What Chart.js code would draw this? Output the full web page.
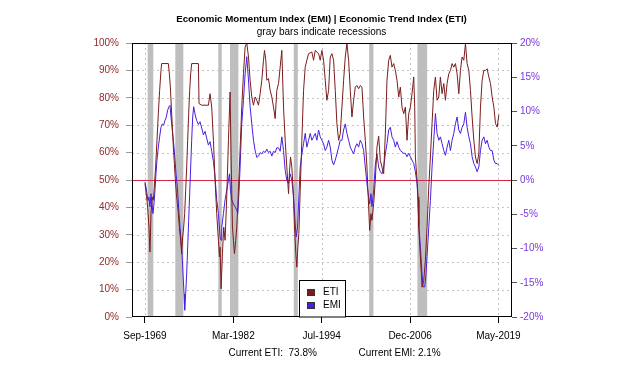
<!DOCTYPE html>
<html>
<head>
<meta charset="utf-8">
<script src="https://cdn.jsdelivr.net/npm/chart.js@4.4.0/dist/chart.umd.min.js"></script>
<style>
html,body{margin:0;padding:0;background:#fff;}
canvas{display:block;}
</style>
</head>
<body>
<canvas id="c" width="626" height="371"></canvas>
<script>
// ---- DATA (x = month index, 0 = Sep-1969) ----
const tickPositions = [0, 150, 300, 450, 600];
const tickLabels = ['Sep-1969', 'Mar-1982', 'Jul-1994', 'Dec-2006', 'May-2019'];

const recessionStarts = [4.6, 51.5, 124.5, 144.4, 252.6, 380.5, 462.5];
const recessionEnds   = [14.1, 65.1, 130.3, 158.5, 259.4, 387.8, 479.0];

const etiMonths = [0,2.8,4.5,6.8,8.5,10.2,12.5,14.2,15.9,18.1,20.4,22.7,24.9,27.2,28.3,39.7,41.4,43.1,44.8,46.5,48.2,49.9,51.6,53.3,55,56.7,58.4,60.6,62.3,64,65.7,67.4,69.1,70.8,72.5,74.2,75.9,77.6,79.3,90.7,91.8,96.3,107.7,110.5,113.3,116.2,119,121.8,124.7,126.4,127.5,129.2,131.5,133.7,136,138.8,141.7,144.5,146.2,148.5,150.2,151.9,154.1,155.8,157.5,159.8,162.1,164.3,167.2,170,172.8,175.7,178.5,181.3,184.2,187,189.8,192.7,195.5,198.3,201.2,202.9,205.1,206.8,209.7,212.5,215.3,218.2,221,223.8,226.7,229.5,232.3,235.2,238,240.8,243.7,245.4,247.1,249.3,251.6,253.9,256.1,257.8,259.5,261.2,263.5,266.3,269.2,272,274.8,277.7,283.3,286.2,289,294.7,297.5,300.3,303.2,306,308.8,311.7,314.5,317.3,320.2,323,325.8,328.7,331.5,334.3,337.2,340,342.8,345.7,348.5,351.3,354.2,357,359.8,362.7,365.5,368.3,371.2,374,376.8,379.7,381.4,383.6,385.3,388.2,391,393.8,396.7,399.5,402.3,405.2,408,410.8,413.7,416.5,419.3,422.2,425,427.8,430.7,433.5,436.3,439.2,442,444.8,447.7,450.5,453.3,456.2,457.9,459,461.8,463.5,464.7,467.5,469.2,470.3,473.2,476,478.8,481.7,484.5,487.3,490.2,493,495.8,498.7,501.5,504.3,507.2,510,512.8,515.7,518.5,521.3,524.2,527,529.8,532.7,535.5,538.3,541.2,544,546.8,549.7,552.5,555.3,558.2,561,563.8,566.7,569.5,572.3,575.2,578,580.8,583.7,586.5,589.3,592.2,595,597.8,600.7];
const etiValues = [48.7,43.8,40.1,32.8,23.7,37.7,43.8,42.6,47.4,54.7,64.5,74.2,82.7,90,92.5,92.5,88.8,83.9,76.6,69.3,62,56,49.9,45,41.4,37.7,32.8,28,23.1,29.2,32.8,37.7,46.2,54.7,64.5,74.2,82.7,88.8,92.5,92.5,77.9,77.3,77.3,81.5,76.6,64.5,49.9,37.7,28,21.9,25.5,10.3,23.1,32.8,28,43.8,64.5,82.1,58.4,32.8,28,23.1,28,32.8,40.1,52.3,64.5,76.6,88.8,98.5,100,94.9,86.4,80.3,77.3,80.3,79.1,77.3,81.5,86.4,93.7,97.3,93.7,86.4,87,82.7,80.3,76.6,72.4,82.7,85.2,91.2,97.3,76.6,64.5,54.7,45,53.5,58.4,54.7,46.2,32.8,23.1,18.2,25.5,30.4,46.2,64.5,82.7,91.2,93.7,96.1,96.7,93.7,97.3,96.1,93.7,97.3,93.7,86.4,79.1,82.7,94.9,96.1,93.7,82.7,70.6,64.5,66.9,76.6,86.4,94.9,99.8,93.7,82.7,73,79.1,83.9,84.5,83.3,84.5,83.9,73,64.5,54.7,40.1,31.6,37.7,35.3,41.4,50,62,66,57.2,54.7,52.3,66.9,86.4,93.7,95.5,91.2,92.5,90,86.4,80.3,83.9,76.6,74.2,76.6,64.5,74.2,76.6,81.5,87.6,76.6,58.4,49.9,43.8,32.8,21.9,15.8,10.9,13.4,20.7,32.8,47.4,58.4,70.6,82.7,87.6,79.1,80.3,87.6,81.5,85.2,79.1,85.2,88.8,90,92.5,91.2,92.5,88.8,81.5,90,94.9,93.7,99.8,92.5,90,82.7,73,64.5,58.4,56,59.6,76.6,86.4,90,90,90.6,87.6,85.2,80.3,76.6,70.6,69.3,73.8];

const emiMonths = [0,1.7,3.4,5.1,6.8,8.5,10.2,11.9,13.6,15.3,17,18.7,20.4,22.7,24.9,27.2,29.5,31.7,34,36.3,38.5,40.8,42.5,44.2,45.9,47.6,49.3,51,52.7,54.4,56.1,57.8,59.5,61.2,62.9,64.6,66.3,67.4,69.1,70.8,72.5,74.2,75.9,77.6,79.3,81,82.7,84.4,86.1,87.8,90.7,93.5,96.3,99.2,102,104.8,107.7,110.5,113.3,116.2,119,121.8,124.7,127.5,129.2,130.3,133.2,136,138.8,141.7,143.4,145.1,147.3,150.2,153,155.8,157.5,159.8,161.5,164.3,167.2,170,172.8,175.7,178.5,181.3,184.2,187,189.8,192.7,195.5,198.3,201.2,204,206.8,209.7,212.5,215.3,218.2,221,223.8,226.7,229.5,232.3,235.2,238,240.8,243.7,246.5,249.3,252.2,255,256.7,259,260.7,263.5,266.3,269.2,272,274.8,277.7,280.5,283.3,286.2,289,291.8,294.7,297.5,300.3,303.2,306,308.8,311.7,314.5,317.3,320.2,323,325.8,328.7,331.5,334.3,337.2,340,342.8,345.7,348.5,351.3,354.2,357,359.8,362.7,365.5,368.3,371.2,374,376.8,379.7,381.4,383.6,385.3,388.2,391,393.8,396.7,399.5,402.3,405.2,408,410.8,413.7,416.5,419.3,422.2,425,427.8,430.7,433.5,436.3,439.2,442,444.8,447.7,450.5,453.3,456.2,459,461.8,463.5,464.7,467.5,470.3,472,474.9,477.1,478.8,481.7,484.5,487.3,490.2,493,495.8,498.7,501.5,504.3,507.2,510,512.8,515.7,518.5,521.3,524.2,527,529.8,532.7,535.5,538.3,541.2,544,546.8,549.7,552.5,555.3,558.2,561,563.8,566.7,569.5,572.3,575.2,578,580.8,583.7,586.5,589.3,592.2,595,597.8,600.7];
const emiValues = [-0.3,-1,-2,-3,-2.5,-3.9,-2,-3.5,-4.9,-3.5,-1.5,0.9,2.9,4.8,6.3,7.7,8.2,8,8.7,9.2,10.2,10.7,10.9,9.2,7.7,6.3,4.8,2.9,0.9,-0.5,-2.5,-4.9,-6.9,-8.8,-10.8,-13.7,-16.6,-19,-16.6,-13.7,-9.8,-5.9,-2,1.9,5.8,9.2,10.7,9.9,9.2,8.7,8.1,8.5,7.6,6.6,7.1,6.1,5.1,5.6,4.2,2.7,0.4,-2.9,-4.9,-8.3,-8.8,-6.9,-4.9,-2.9,-1.5,0,0.9,-1.5,-2.9,-3.5,-3.9,-4.4,-4.9,-1.5,1.9,8.2,11.6,15.5,18,14.6,10.7,8.2,5.8,4.3,3.3,3.5,4,3.8,4.2,4,4.5,4,4.2,3.5,4.2,4,4.7,4.7,4.2,6.3,4.3,1.4,0,-0.5,0.9,0,-2.4,-6.4,-8.3,-6.9,-3.5,1.9,3.8,5.3,6.8,4.8,5.8,6.8,5.8,6.3,6.8,5.8,7.3,6.3,5.8,5.3,4.3,4.8,5.8,4.8,2.9,2.2,2.9,3.8,4.8,5.8,5.8,7.3,8.2,6.8,5.8,4.8,4.3,3.8,4.8,5.3,4.8,5.8,5.3,4.3,1.9,-0.5,-2.5,-3.5,-2,-3.9,-1.5,2.2,3.8,1.9,1.2,0.9,1.9,3.8,5.3,7.3,7.7,6.3,5.8,4.8,5.6,4.8,4.3,4.1,3.9,3.9,3.4,3.9,3.4,2.9,2.4,1.2,-0.5,-3,-6.4,-9.8,-13.7,-15.6,-15.6,-13.7,-11.2,-6.9,-3,1.9,5.8,9.7,6.8,5.8,6.3,5.3,4.3,3.6,4.8,5.8,4.3,5.8,6.8,8.2,9.2,7.3,6.8,7.7,8.2,9.9,7.7,6.3,5.3,3.4,2.4,1.9,1.2,1.9,4.3,5.8,6.3,5.3,5.8,4.8,4.3,4.3,2.9,2.4,2.4,2.1];

const seriesNames = ['ETI', 'EMI'];
const currentETI = '73.8%';
const currentEMI = '2.1%';

// ---- STYLE ----
const FONT = '"Liberation Sans", Arial, Helvetica, sans-serif';
const ETI_COLOR = '#7a1c1c';
const EMI_COLOR = '#4a1ee0';
const LEFT_LABEL = '#8e2a2a';
const RIGHT_LABEL = '#7a38dc';

const decor = {
  id: 'decor',
  beforeDatasetsDraw(chart) {
    const {ctx, chartArea: a, scales} = chart;
    const x = scales.x, yl = scales.yL;
    ctx.save();
    ctx.fillStyle = '#bebebe';
    for (let i = 0; i < recessionStarts.length; i++) {
      const x0 = x.getPixelForValue(recessionStarts[i]);
      const x1 = x.getPixelForValue(recessionEnds[i]);
      ctx.fillRect(x0, a.top, x1 - x0, a.bottom - a.top);
    }
    ctx.strokeStyle = '#c4c4c4';
    ctx.lineWidth = 1;
    ctx.setLineDash([2, 3]);
    tickPositions.forEach(v => {
      const px = Math.round(x.getPixelForValue(v)) + 0.5;
      ctx.beginPath(); ctx.moveTo(px, a.top); ctx.lineTo(px, a.bottom); ctx.stroke();
    });
    for (let v = 10; v < 100; v += 10) {
      if (v === 50) continue;
      const py = Math.round(yl.getPixelForValue(v)) + 0.5;
      ctx.beginPath(); ctx.moveTo(a.left, py); ctx.lineTo(a.right, py); ctx.stroke();
    }
    ctx.setLineDash([]);
    ctx.strokeStyle = '#d8284a';
    const pz = Math.round(yl.getPixelForValue(50)) + 0.5;
    ctx.beginPath(); ctx.moveTo(a.left, pz); ctx.lineTo(a.right, pz); ctx.stroke();
    ctx.restore();
  },
  afterDatasetsDraw(chart) {
    const {ctx, chartArea: a} = chart;
    ctx.save();
    ctx.strokeStyle = '#000';
    ctx.lineWidth = 1;
    ctx.strokeRect(a.left + 0.5, a.top + 0.5, a.right - a.left - 1, a.bottom - a.top - 1);
    // legend
    const lx = 299.5, ly = 280.5, lw = 46, lh = 36.5;
    ctx.fillStyle = '#fff';
    ctx.fillRect(lx, ly, lw, lh);
    ctx.strokeRect(lx, ly, lw, lh);
    const cols = [ETI_COLOR, EMI_COLOR];
    ctx.font = '10px ' + FONT;
    ctx.textBaseline = 'middle';
    ctx.textAlign = 'left';
    seriesNames.forEach((n, i) => {
      const sy = 289 + i * 13;
      ctx.fillStyle = cols[i];
      ctx.fillRect(307, sy, 8, 7);
      ctx.strokeStyle = '#333';
      ctx.strokeRect(307.5, sy + 0.5, 7, 6);
      ctx.fillStyle = '#000';
      ctx.fillText(n, 323, sy + 3.5);
    });
    ctx.restore();
  },
  afterDraw(chart) {
    const {ctx} = chart;
    ctx.save();
    ctx.fillStyle = '#000';
    ctx.textBaseline = 'middle';
    ctx.textAlign = 'center';
    ctx.font = 'bold 9.7px ' + FONT;
    ctx.fillText('Economic Momentum Index (EMI) | Economic Trend Index (ETI)', 321.5, 19.5);
    ctx.font = '10px ' + FONT;
    ctx.fillText('gray bars indicate recessions', 321.5, 32.5);
    ctx.textAlign = 'left';
    ctx.fillText('Current ETI:  ' + currentETI, 228.5, 353.5);
    ctx.fillText('Current EMI: ' + currentEMI, 358.5, 353.5);
    ctx.restore();
  }
};

new Chart(document.getElementById('c'), {
  type: 'line',
  data: {
    datasets: [
      {
        label: seriesNames[0],
        data: etiMonths.map((m, i) => ({x: m, y: etiValues[i]})),
        yAxisID: 'yL',
        borderColor: ETI_COLOR,
        borderWidth: 1,
        pointRadius: 0,
        tension: 0
      },
      {
        label: seriesNames[1],
        data: emiMonths.map((m, i) => ({x: m, y: emiValues[i]})),
        yAxisID: 'yR',
        borderColor: EMI_COLOR,
        borderWidth: 1,
        pointRadius: 0,
        tension: 0
      }
    ]
  },
  options: {
    responsive: false,
    animation: false,
    devicePixelRatio: 1,
    layout: {padding: {top: 43, left: 0, right: 0, bottom: 0}},
    plugins: {legend: {display: false}, title: {display: false}, tooltip: {enabled: false}},
    scales: {
      x: {
        type: 'linear', min: -22, max: 623,
        afterBuildTicks: s => { s.ticks = tickPositions.map(v => ({value: v})); },
        afterFit: s => { s.height = 54; },
        ticks: {
          callback: (v, i) => tickLabels[i],
          autoSkip: false, maxRotation: 0, padding: 7,
          color: '#000', font: {size: 10, family: FONT}
        },
        grid: {drawOnChartArea: false, drawTicks: true, tickLength: 6, tickColor: '#000'},
        border: {display: false}
      },
      yL: {
        position: 'left', min: 0, max: 100,
        afterFit: s => { s.width = 132; },
        ticks: {stepSize: 10, callback: v => v + '%', color: LEFT_LABEL, padding: 7, font: {size: 10, family: FONT}},
        grid: {drawOnChartArea: false, drawTicks: true, tickLength: 6, tickColor: '#999'},
        border: {display: false}
      },
      yR: {
        position: 'right', min: -20, max: 20,
        afterFit: s => { s.width = 114; },
        ticks: {stepSize: 5, callback: v => v + '%', color: RIGHT_LABEL, padding: 3, font: {size: 10, family: FONT}},
        grid: {drawOnChartArea: false, drawTicks: true, tickLength: 5, tickColor: '#555'},
        border: {display: false}
      }
    }
  },
  plugins: [decor]
});
</script>
</body>
</html>
